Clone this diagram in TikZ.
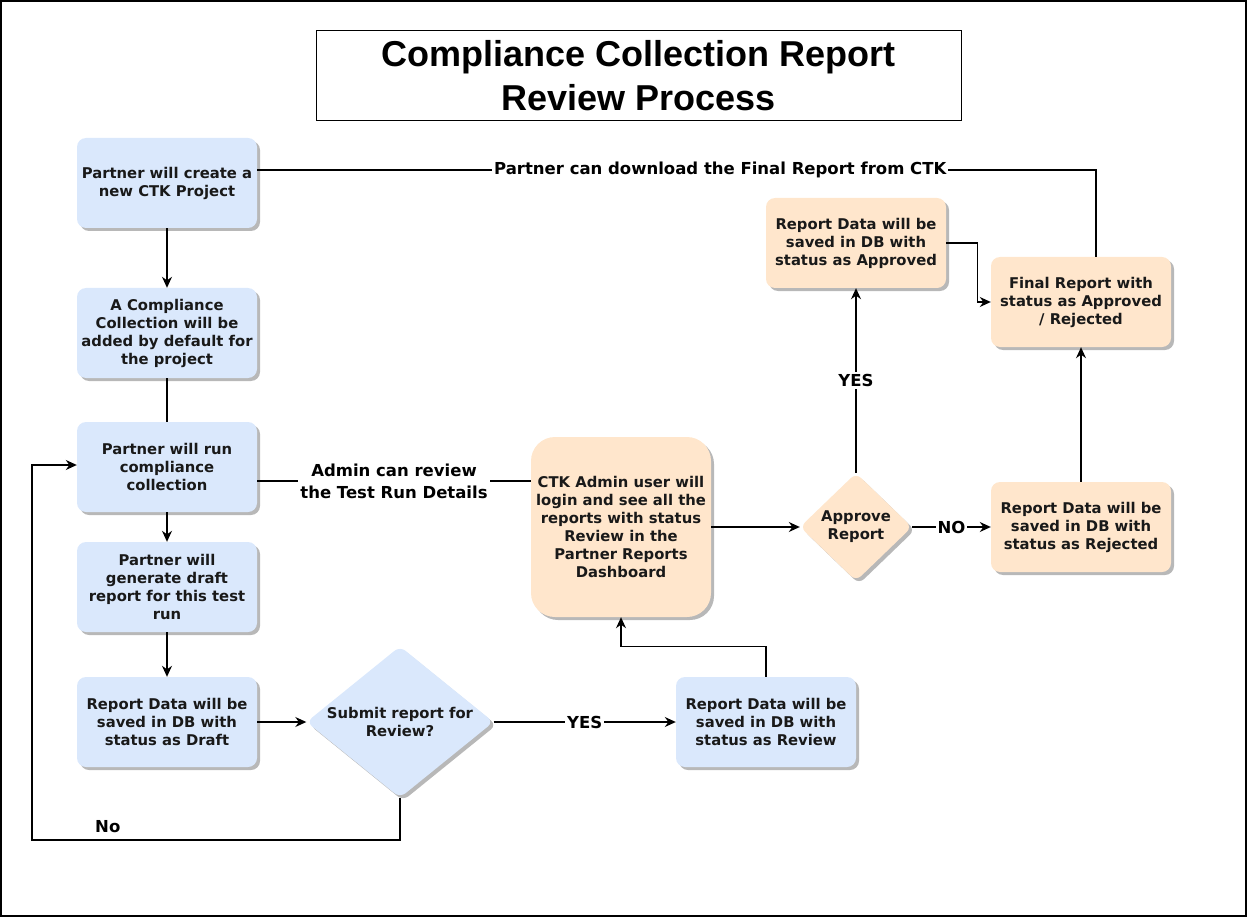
\documentclass[tikz,border=0pt]{standalone}
\usepackage{fontspec}
\setmainfont{DejaVu Sans}
\newfontfamily\titlefont{Liberation Sans}
\usepackage{tikz}
\usetikzlibrary{arrows.meta, positioning, calc, shapes.geometric, shadows}

\definecolor{partblue}{HTML}{DAE8FC}
\definecolor{adminorange}{HTML}{FFE6CC}

\begin{document}
\begin{tikzpicture}[
    x=1pt, y=-1pt,
    >={Stealth[length=11pt, width=10pt]},
    box/.style={rounded corners=9pt, minimum width=180pt, minimum height=90pt, inner sep=1pt,
                font=\bfseries\fontsize{14.8}{18}\selectfont, align=center, text=black!90,
                drop shadow={shadow xshift=3pt, shadow yshift=-3pt, fill=black!28, opacity=1}},
    partbox/.style={box, fill=partblue},
    adminbox/.style={box, fill=adminorange},
    decision/.style={diamond, rounded corners=7pt, inner sep=-6pt, align=center, text=black!90,
                font=\bfseries\fontsize{14.8}{18}\selectfont,
                drop shadow={shadow xshift=3pt, shadow yshift=-3pt, fill=black!28, opacity=1}},
    arr/.style={->, line width=1.3pt},
    plain/.style={line width=1.3pt},
    lbl/.style={font=\bfseries\fontsize{16.5}{22}\selectfont, fill=white, inner sep=2pt, align=center},
]
\useasboundingbox (0,0) rectangle (1247,917);
\draw[line width=1.2pt] (1,1) rectangle (1246,916);
% ------------------------------------------------ title
\node[draw, line width=1pt, minimum width=645pt, minimum height=90pt, align=center,
      font=\titlefont\bfseries\fontsize{36}{44}\selectfont] (title) at (638.5,76)
      {Compliance Collection Report\\Review Process};
% ------------------------------------------------ partner side
\node[partbox] (create) at (167,183) {Partner will create a\\new CTK Project};
\node[partbox] (collect) at (167,333) {A Compliance\\Collection will be\\added by default for\\the project};
\node[partbox] (run) at (167,467) {Partner will run\\compliance\\collection};
\node[partbox] (draft) at (167,587) {Partner will\\generate draft\\report for this test\\run};
\node[partbox] (saved) at (167,722) {Report Data will be\\saved in DB with\\status as Draft};
\node[decision, fill=partblue, minimum width=187pt, minimum height=150pt] (submit) at (400,722) {Submit report for\\Review?};
\node[partbox] (review) at (766,722) {Report Data will be\\saved in DB with\\status as Review};
% ------------------------------------------------ admin side
\node[adminbox, minimum height=180pt, rounded corners=24pt] (admin) at (621,527) {CTK Admin user will\\login and see all the\\reports with status\\Review in the\\Partner Reports\\Dashboard};
\node[decision, fill=adminorange, minimum width=112pt, minimum height=108pt, inner sep=-2pt] (approve) at (856,527) {Approve\\Report};
\node[adminbox] (approved) at (856,243) {Report Data will be\\saved in DB with\\status as Approved};
\node[adminbox] (final) at (1081,302) {Final Report with\\status as Approved\\/ Rejected};
\node[adminbox] (rejected) at (1081,527) {Report Data will be\\saved in DB with\\status as Rejected};
% ------------------------------------------------ connectors
\coordinate (noturn) at (32,840);
\draw[arr] (create) -- (collect);
\draw[plain] (collect) -- (run);
\draw[arr] (run) -- (draft);
\draw[arr] (draft) -- (saved);
\draw[arr] (saved) -- (submit);
\draw[arr] (submit) -- node[lbl] {YES} (review);
\draw[arr] (submit.south) |- node[lbl, fill=none, pos=0.897, above=5pt] {No} (noturn) |- ([yshift=2pt]run.west);
\draw[arr] (review.north) -- ++(0,-30) -| (admin.south);
\draw[plain] ([yshift=-14pt]run.east) -- node[lbl] {Admin can review\\the Test Run Details} ([yshift=-14pt]run.east -| admin.west);
\draw[arr] (admin) -- (approve);
\draw[arr] (approve) -- node[lbl] {YES} (approved);
\draw[arr] (approve) -- node[lbl] {NO} (rejected);
\draw[arr] (rejected) -- (final);
\draw[arr] (approved.east) -- ++(31,0) |- (final.west);
\draw[plain] ([xshift=15pt]final.north) |- node[lbl, pos=0.724] {Partner can download the Final Report from CTK} ([yshift=13pt]create.east);
\end{tikzpicture}
\end{document}
